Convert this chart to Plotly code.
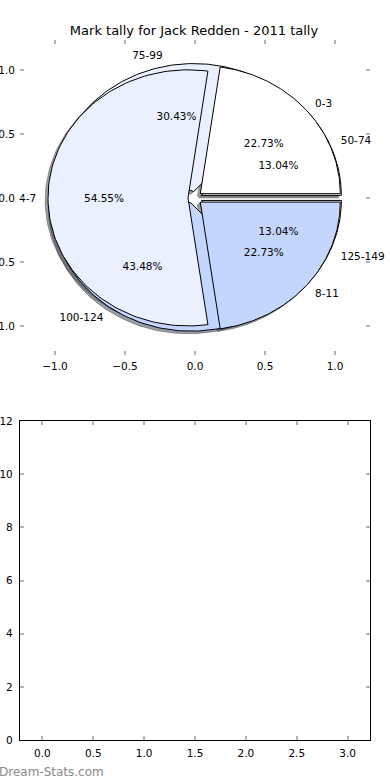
import numpy as np
import plotly.graph_objects as go

# ---------------- data ----------------
title_text = "Mark tally for Jack Redden - 2011 tally"
labels_marks = ["0-3", "4-7", "8-11"]
values_marks = [5, 12, 5]
labels_tally = ["50-74", "75-99", "100-124", "125-149"]
values_tally = [3, 7, 10, 3]
explode_marks = [0.05, 0.05, 0.05]
explode_tally = [0.05, 0.05, 0.05, 0.05]
slice_colors = ["#ffffff", "#eaf0fe", "#c4d6fe"]
pie_ticks = [-1.0, -0.5, 0.0, 0.5, 1.0]
bottom_xticks = [0.0, 0.5, 1.0, 1.5, 2.0, 2.5, 3.0]
bottom_yticks = [0, 2, 4, 6, 8, 10, 12]
watermark = "Dream-Stats.com"

FONT = "DejaVu Sans"
W, H = 390, 780
LABEL_DIST = 1.085
PCT_DIST = 0.6


def hex_to_rgb(h):
    h = h.lstrip("#")
    return tuple(int(h[i:i + 2], 16) for i in (0, 2, 4))


def build_wedges(values, explode):
    total = float(sum(values))
    res = []
    t1 = 0.0
    for i, (v, e) in enumerate(zip(values, explode)):
        t2 = t1 + 360.0 * v / total
        tm = np.deg2rad((t1 + t2) / 2.0)
        cx, cy = e * np.cos(tm), e * np.sin(tm)
        t = np.deg2rad(np.linspace(t1, t2, 120))
        xs = np.concatenate([[cx], cx + np.cos(t), [cx]])
        ys = np.concatenate([[cy], cy + np.sin(t), [cy]])
        res.append(dict(xs=xs, ys=ys, tm=tm, cx=cx, cy=cy, frac=v / total,
                        color=slice_colors[i % len(slice_colors)]))
        t1 = t2
    return res


def fmt_tick(v):
    return "%.1f" % v if v >= 0 else "\u2212%.1f" % -v


w_tally = build_wedges(values_tally, explode_tally)
w_marks = build_wedges(values_marks, explode_marks)

fig = go.Figure()

# shadows (below every wedge)
for w in w_tally + w_marks:
    r, g, b = hex_to_rgb(w["color"])
    sc = "rgba(%d,%d,%d,0.5)" % (0.3 * r, 0.3 * g, 0.3 * b)
    fig.add_trace(go.Scatter(x=w["xs"] - 0.02, y=w["ys"] - 0.02, mode="lines",
                             fill="toself", fillcolor=sc,
                             line=dict(color=sc, width=1),
                             hoverinfo="skip", showlegend=False,
                             xaxis="x", yaxis="y"))

# wedges
for w in w_tally + w_marks:
    fig.add_trace(go.Scatter(x=w["xs"], y=w["ys"], mode="lines",
                             fill="toself", fillcolor=w["color"],
                             line=dict(color="black", width=1),
                             hoverinfo="skip", showlegend=False,
                             xaxis="x", yaxis="y"))

# texts
for wl, labels in ((w_marks, labels_marks), (w_tally, labels_tally)):
    px = [w["cx"] + PCT_DIST * np.cos(w["tm"]) for w in wl]
    py = [w["cy"] + PCT_DIST * np.sin(w["tm"]) - 0.01 for w in wl]
    pt = ["%1.2f%%" % (100 * w["frac"]) for w in wl]
    fig.add_trace(go.Scatter(x=px, y=py, mode="text", text=pt,
                             textposition="middle center", cliponaxis=False,
                             textfont=dict(family=FONT, size=10.5, color="black"),
                             hoverinfo="skip", showlegend=False))
    lx = [w["cx"] + LABEL_DIST * np.cos(w["tm"]) for w in wl]
    ly = [w["cy"] + LABEL_DIST * np.sin(w["tm"]) - 0.01 for w in wl]
    pos = ["middle right" if x > 0 else "middle left" for x in lx]
    fig.add_trace(go.Scatter(x=lx, y=ly, mode="text", text=labels,
                             textposition=pos, cliponaxis=False,
                             textfont=dict(family=FONT, size=10.5, color="black"),
                             hoverinfo="skip", showlegend=False))

# empty second subplot
fig.add_trace(go.Scatter(x=[], y=[], mode="markers", xaxis="x2", yaxis="y2",
                         hoverinfo="skip", showlegend=False))

x0, x1 = 20 / W, 370 / W
tick_style = dict(ticks="inside", ticklen=4, tickwidth=1.5, tickcolor="#b4b4b4",
                  tickfont=dict(family=FONT, size=10.5, color="black"),
                  showgrid=False, zeroline=False, automargin=False,
                  mirror="ticks")

fig.update_layout(
    width=W, height=H, template="none",
    margin=dict(l=0, r=0, t=0, b=0),
    paper_bgcolor="white", plot_bgcolor="rgba(0,0,0,0)",
    showlegend=False,
    xaxis=dict(domain=[x0, x1], range=[-1.25, 1.25], tickvals=pie_ticks,
               ticktext=[fmt_tick(v) for v in pie_ticks], ticklabelstandoff=3,
               showline=False, anchor="y", **tick_style),
    yaxis=dict(domain=[1 - 355 / H, 1 - 40 / H], range=[-1.227, 1.233],
               tickvals=pie_ticks, ticktext=[fmt_tick(v) for v in pie_ticks],
               ticklabelstandoff=4,
               showline=False, anchor="x", **tick_style),
    xaxis2=dict(domain=[x0, x1], range=[-0.22, 3.22], tickvals=bottom_xticks,
                ticktext=["%.1f" % v for v in bottom_xticks], ticklabelstandoff=3,
                showline=True, linecolor="black", linewidth=1.2, anchor="y2",
                **tick_style),
    yaxis2=dict(domain=[1 - 740 / H, 1 - 421 / H], range=[0, 12],
                tickvals=bottom_yticks, ticktext=[str(v) for v in bottom_yticks],
                ticklabelstandoff=4,
                showline=True, linecolor="black", linewidth=1.2, anchor="x2",
                **tick_style),
    title=dict(text=title_text, x=194 / W, xanchor="center", xref="paper",
               y=1 - 30 / H, yanchor="middle", yref="paper",
               font=dict(family=FONT, size=13, color="black")),
    annotations=[dict(text=watermark, x=-3 / W, y=1 - 772 / H, xref="paper", yref="paper",
                      xanchor="left", yanchor="middle", showarrow=False,
                      font=dict(family=FONT, size=12, color="#8c8c8c"))],
)

fig.write_html("out.html", config={"displayModeBar": False},
               post_script="document.body.style.margin='0';"
                           "document.body.style.overflow='hidden';")
